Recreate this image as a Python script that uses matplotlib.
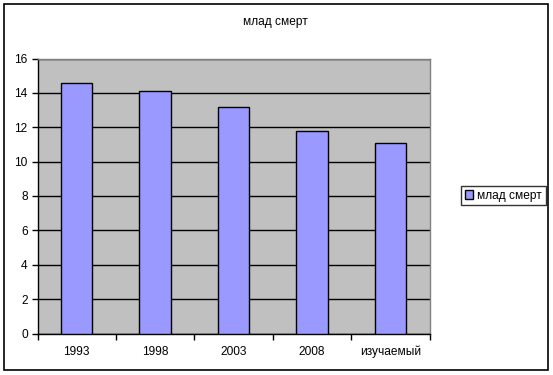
import matplotlib
matplotlib.use("Agg")
import matplotlib.pyplot as plt
from matplotlib.patches import Rectangle
import numpy as np

plt.rcParams['font.family'] = ['Liberation Sans', 'DejaVu Sans']

# Данные
categories = ['1993', '1998', '2003', '2008', 'изучаемый']
values = [14.6, 14.1, 13.2, 11.8, 11.1]
series_name = 'млад смерт'

fs = 8.6
W, H = 553, 375
fig = plt.figure(figsize=(W / 100, H / 100), dpi=100)

# Рамка вокруг всей диаграммы
fig.patches.append(Rectangle((4 / W, 1 - 370 / H), 543.5 / W, 366 / H,
                             transform=fig.transFigure, fill=False,
                             edgecolor='black', linewidth=1.2))

# Область построения
left, right, top, bottom = 37.5, 429.5, 58.5, 333.5
ax = fig.add_axes([left / W, 1 - bottom / H, (right - left) / W, (bottom - top) / H])
ax.set_facecolor('#C0C0C0')

x = np.arange(len(categories))
ax.bar(x, values, width=0.4, color='#9999FF', edgecolor='black', linewidth=1.0,
       zorder=3, label=series_name)

ax.set_xlim(-0.5, len(categories) - 0.5)
ax.set_ylim(0, 16)
ax.set_yticks(np.arange(0, 17, 2))
ax.yaxis.grid(True, color='black', linewidth=1.0, zorder=1)
ax.set_axisbelow(True)

# Подписи категорий и деления между ними
ax.set_xticks(x)
ax.set_xticklabels(categories)
ax.set_xticks(np.arange(-0.5, len(categories)), minor=True)
ax.tick_params(axis='x', which='major', length=0, pad=9, labelsize=fs)
ax.tick_params(axis='x', which='minor', length=4, width=1, direction='out')
ax.tick_params(axis='y', length=4, width=1, direction='out', labelsize=fs, pad=3)

for s in ['top', 'right']:
    ax.spines[s].set_color('#808080')
    ax.spines[s].set_linewidth(1.0)
for s in ['left', 'bottom']:
    ax.spines[s].set_color('black')
    ax.spines[s].set_linewidth(1.0)

fig.text(275 / W, 1 - 22 / H, series_name, ha='center', va='center', fontsize=fs)

leg = fig.legend(loc='center', bbox_to_anchor=(503.5 / W, 1 - 195.5 / H),
                 fontsize=fs, frameon=True, fancybox=False,
                 handlelength=0.7, handleheight=0.7, handletextpad=0.35,
                 borderpad=0.3, borderaxespad=0)
leg.get_frame().set_edgecolor('black')
leg.get_frame().set_linewidth(1.0)

fig.savefig('out.png', dpi=100)
